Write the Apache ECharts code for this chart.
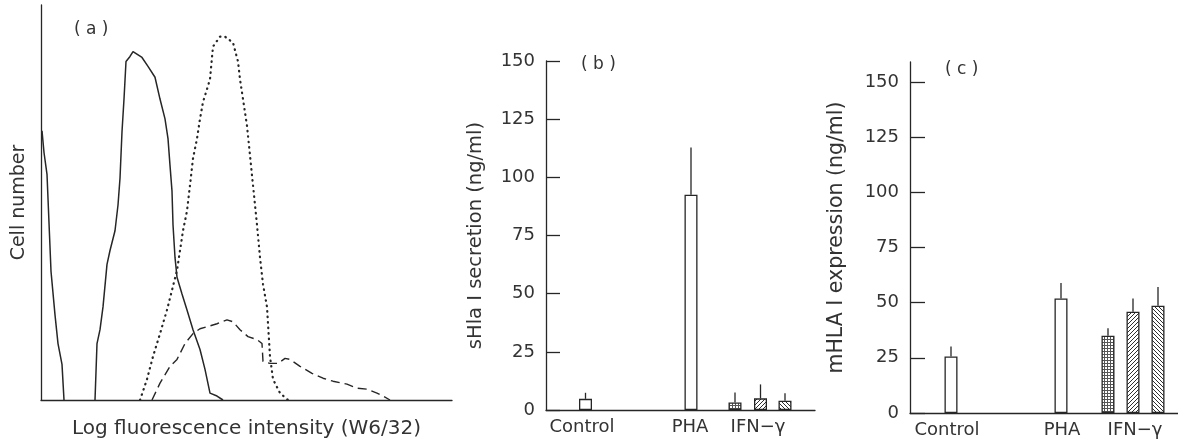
<!DOCTYPE html>
<html>
<head>
<meta charset="utf-8">
<script src="https://cdn.jsdelivr.net/npm/echarts@6/dist/echarts.min.js"></script>
<style>
html,body{margin:0;padding:0;background:#fff;}
#chart{width:1178px;height:444px;}
</style>
</head>
<body>
<div id="chart"></div>
<script>
// ---------- Panel (a): flow cytometry histograms (arbitrary units) ----------
const aControl = [[1,272],[3,250],[6,228],[10,130],[14,86],[17,57],[21,36],[23,0]];
const aSolid = [[54,0],[56,57],[59,71],[62,94],[66,137],[69,151],[74,171],[77,197],[79,224],[81,271],[83,304],[85,342],[89,347],[92,352],[101,346],[107,337],[114,326],[119,304],[124,284],[127,264],[129,237],[131,211],[132,177],[134,144],[136,124],[141,107],[146,91],[152,71],[159,51],[164,31],[169,7],[176,4],[182,0]];
const aDotted = [[99,0],[106,21],[112,44],[119,67],[126,91],[131,111],[136,131],[139,151],[142,171],[146,191],[149,217],[152,244],[156,264],[159,284],[162,301],[166,314],[169,324],[172,357],[179,367],[184,367],[192,361],[197,342],[199,324],[202,304],[206,277],[209,247],[212,217],[216,177],[219,144],[222,117],[226,94],[229,44],[232,21],[239,7],[247,0]];
const aDashed = [[111,0],[119,17],[129,34],[136,41],[144,57],[152,67],[159,72],[166,74],[176,77],[186,81],[192,79],[199,71],[207,64],[216,61],[221,57],[222,39],[229,37],[237,37],[244,42],[249,41],[259,34],[271,27],[282,22],[292,19],[306,16],[316,12],[326,11],[336,7],[342,4],[349,0]];

// ---------- Panel (b): sHLA I secretion (ng/ml) ----------
const groupLabels = ['Control', 'PHA', 'IFN\u2212\u03b3'];
const bValues = [4.8, 92.5, 3.2, 5.0, 4.0];
const bErrors = [2.6, 20.3, 4.3, 6.0, 3.2];
const bBarX   = [3.95, 14.5, 18.9, 21.45, 23.9];
const bLabelX = [3.6, 14.4, 21.2];

// ---------- Panel (c): mHLA I expression (ng/ml) ----------
const cValues = [25.6, 51.9, 35.0, 45.9, 48.6];
const cErrors = [4.5, 7.0, 3.4, 6.0, 8.5];
const cBarX   = [4.1, 15.1, 19.8, 22.3, 24.8];
const cLabelX = [3.7, 15.2, 22.5];

const yTicks = [0, 25, 50, 75, 100, 125, 150];
</script>
<script>
const INK = '#262626';
const TXT = '#333333';
const FONT = 'DejaVu Sans';

function makePattern(kind) {
  const c = document.createElement('canvas');
  const ctx = c.getContext('2d');
  if (kind === 'dots') {
    c.width = 3; c.height = 3;
    ctx.fillStyle = '#ffffff'; ctx.fillRect(0, 0, 3, 3);
    ctx.fillStyle = '#555555';
    ctx.fillRect(0, 0, 3, 1); ctx.fillRect(0, 0, 1, 3);
  } else {
    c.width = 4; c.height = 4;
    ctx.fillStyle = '#ffffff'; ctx.fillRect(0, 0, 4, 4);
    ctx.fillStyle = '#2e2e2e';
    for (let i = 0; i < 4; i++) {
      if (kind === 'up') ctx.fillRect(i, 3 - i, 1, 1);
      else ctx.fillRect(i, i, 1, 1);
    }
  }
  return { image: c, repeat: 'repeat' };
}
const fillStyles = ['#ffffff', '#ffffff', makePattern('dots'), makePattern('up'), makePattern('down')];

function barData(xs, vals) {
  return vals.map((v, i) => ({ value: [xs[i], v], itemStyle: { color: fillStyles[i] } }));
}
function errData(xs, vals, errs) {
  return vals.map((v, i) => [xs[i], v, v + errs[i]]);
}
function errRender(params, api) {
  const p0 = api.coord([api.value(0), api.value(1)]);
  const p1 = api.coord([api.value(0), api.value(2)]);
  return { type: 'line', shape: { x1: p0[0], y1: p0[1], x2: p1[0], y2: p1[1] },
           style: { stroke: INK, lineWidth: 1.3 } };
}
function nearestLabel(pos) {
  return function (v) {
    let best = 0, d = Infinity;
    pos.forEach((p, i) => { if (Math.abs(p - v) < d) { d = Math.abs(p - v); best = i; } });
    return groupLabels[best];
  };
}
const axisLine = { show: true, onZero: false, lineStyle: { color: INK, width: 1.3 } };
const labelText = { color: TXT, fontFamily: FONT, fontSize: 18 };
const nameText = (size) => ({ color: TXT, fontFamily: FONT, fontSize: size });
const panelTitle = { color: TXT, fontFamily: FONT, fontSize: 17, fontWeight: 'normal' };

const chart = echarts.init(document.getElementById('chart'), null, { renderer: 'canvas' });
chart.setOption({
  backgroundColor: '#ffffff',
  animation: false,
  title: [
    { text: '( a )', left: 69, top: 16, textStyle: panelTitle },
    { text: '( b )', left: 576, top: 51, textStyle: panelTitle },
    { text: '( c )', left: 940, top: 56, textStyle: panelTitle }
  ],
  grid: [
    { left: 41, top: 5, width: 411, height: 399 },
    { left: 546, top: 61, width: 269, height: 349 },
    { left: 910, top: 62, width: 268, height: 351 }
  ],
  xAxis: [
    { gridIndex: 0, type: 'value', min: 0, max: 411, axisLine: axisLine, axisTick: { show: false },
      axisLabel: { show: false }, splitLine: { show: false },
      name: 'Log fluorescence intensity (W6/32)', nameLocation: 'middle', nameGap: 19,
      nameTextStyle: nameText(20) },
    { gridIndex: 1, type: 'value', min: 0, max: 26.9, axisLine: axisLine, axisTick: { show: false },
      axisLabel: Object.assign({ customValues: bLabelX, formatter: nearestLabel(bLabelX), margin: 8 }, labelText),
      splitLine: { show: false } },
    { gridIndex: 2, type: 'value', min: 0, max: 26.8, axisLine: axisLine, axisTick: { show: false },
      axisLabel: Object.assign({ customValues: cLabelX, formatter: nearestLabel(cLabelX), margin: 8 }, labelText),
      splitLine: { show: false } }
  ],
  yAxis: [
    { gridIndex: 0, type: 'value', min: 0, max: 399, axisLine: axisLine, axisTick: { show: false },
      axisLabel: { show: false }, splitLine: { show: false },
      name: 'Cell number', nameLocation: 'middle', nameGap: 12, nameTextStyle: nameText(19) },
    { gridIndex: 1, type: 'value', min: 0, max: 150, interval: 25, axisLine: axisLine,
      axisTick: { show: true, inside: true, length: 14, lineStyle: { color: INK, width: 1.3 } },
      axisLabel: Object.assign({ margin: 11 }, labelText), splitLine: { show: false },
      name: 'sHla I secretion (ng/ml)', nameLocation: 'middle', nameGap: 60, nameTextStyle: nameText(19.5) },
    { gridIndex: 2, type: 'value', min: 0, max: 159, axisLine: axisLine,
      axisTick: { show: true, inside: true, length: 15, customValues: yTicks, lineStyle: { color: INK, width: 1.3 } },
      axisLabel: Object.assign({ margin: 11, customValues: yTicks }, labelText), splitLine: { show: false },
      name: 'mHLA I expression (ng/ml)', nameLocation: 'middle', nameGap: 63, nameTextStyle: nameText(20.5) }
  ],
  series: [
    { type: 'line', xAxisIndex: 0, yAxisIndex: 0, data: aControl, symbol: 'none', lineStyle: { color: INK, width: 1.5 } },
    { type: 'line', xAxisIndex: 0, yAxisIndex: 0, data: aSolid, symbol: 'none', lineStyle: { color: INK, width: 1.5 } },
    { type: 'line', xAxisIndex: 0, yAxisIndex: 0, data: aDotted, symbol: 'none',
      lineStyle: { color: INK, width: 2.2, type: [0.5, 5], cap: 'round' } },
    { type: 'line', xAxisIndex: 0, yAxisIndex: 0, data: aDashed, symbol: 'none',
      lineStyle: { color: INK, width: 1.4, type: [9, 5] } },

    { type: 'bar', xAxisIndex: 1, yAxisIndex: 1, barWidth: 13, data: barData(bBarX, bValues),
      itemStyle: { borderColor: INK, borderWidth: 1.3 }, z: 3 },
    { type: 'custom', xAxisIndex: 1, yAxisIndex: 1, renderItem: errRender, data: errData(bBarX, bValues, bErrors), z: 4 },

    { type: 'bar', xAxisIndex: 2, yAxisIndex: 2, barWidth: 13, data: barData(cBarX, cValues),
      itemStyle: { borderColor: INK, borderWidth: 1.3 }, z: 3 },
    { type: 'custom', xAxisIndex: 2, yAxisIndex: 2, renderItem: errRender, data: errData(cBarX, cValues, cErrors), z: 4 }
  ]
});
</script>
</body>
</html>
